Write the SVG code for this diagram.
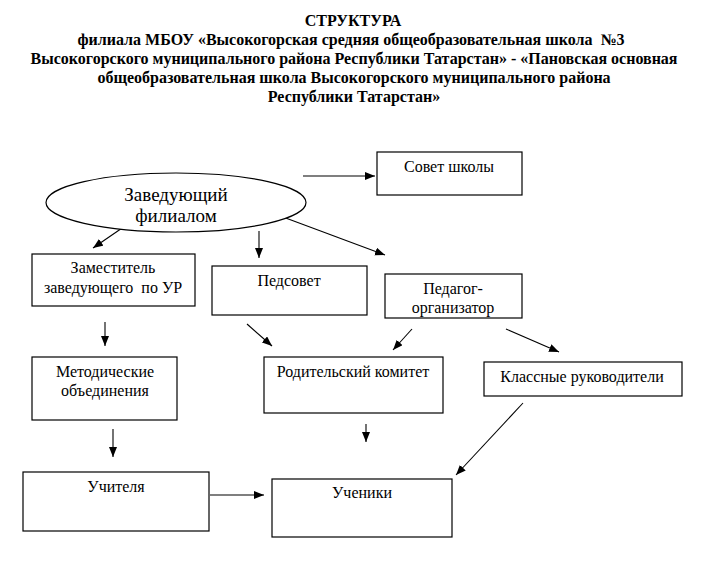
<svg xmlns="http://www.w3.org/2000/svg" width="705" height="571" viewBox="0 0 705 571">
<style>
.t{font-family:"Liberation Serif",serif;font-size:16px;font-weight:bold;text-anchor:middle;fill:#000}
.n{font-family:"Liberation Serif",serif;font-size:16px;text-anchor:middle;fill:#000}
.b{fill:#fff;stroke:#000;stroke-width:1.2}
.c line{stroke:#000;stroke-width:1.1}
</style>
<defs>
<marker id="ah" markerUnits="userSpaceOnUse" markerWidth="11" markerHeight="9" refX="10" refY="4" orient="auto"><path d="M0,0 L10,4 L0,8 z" fill="#000"/></marker>
<clipPath id="ce"><ellipse cx="176" cy="202.5" rx="130" ry="29.5"/></clipPath>
<clipPath id="cp"><rect x="385" y="274" width="137" height="44"/></clipPath>
</defs>
<rect width="705" height="571" fill="#fff"/>
<g id="title">
<text class="t" x="353" y="26">СТРУКТУРА</text>
<text class="t" x="351" y="45" xml:space="preserve">филиала МБОУ «Высокогорская средняя общеобразовательная школа  №3</text>
<text class="t" x="354" y="64">Высокогорского муниципального района Республики Татарстан» - «Пановская основная</text>
<text class="t" x="354" y="83">общеобразовательная школа Высокогорского муниципального района</text>
<text class="t" x="354" y="102">Республики Татарстан»</text>
</g>
<g class="c" id="connectors">
<line x1="303" y1="176" x2="375" y2="176" marker-end="url(#ah)"/>
<line x1="128" y1="224" x2="93" y2="248" marker-end="url(#ah)"/>
<line x1="259" y1="231" x2="259" y2="258" marker-end="url(#ah)"/>
<line x1="283" y1="217" x2="385" y2="255" marker-end="url(#ah)"/>
<line x1="105" y1="322" x2="105" y2="346" marker-end="url(#ah)"/>
<line x1="247" y1="324" x2="272" y2="346" marker-end="url(#ah)"/>
<line x1="412" y1="329" x2="393" y2="350" marker-end="url(#ah)"/>
<line x1="506" y1="329" x2="559" y2="352" marker-end="url(#ah)"/>
<line x1="113" y1="429" x2="113" y2="457" marker-end="url(#ah)"/>
<line x1="366" y1="424" x2="366" y2="442" marker-end="url(#ah)"/>
<line x1="523" y1="403" x2="456" y2="475" marker-end="url(#ah)"/>
<line x1="210" y1="495" x2="264" y2="495" marker-end="url(#ah)"/>
</g>
<g id="zaveduyushchiy">
<ellipse class="b" cx="176" cy="202.5" rx="130" ry="29.5"/>
<g clip-path="url(#ce)">
<text class="n" style="font-size:19px" x="176" y="201">Заведующий</text>
<text class="n" style="font-size:19px" x="176" y="222">филиалом</text>
</g>
</g>
<g id="sovet">
<rect class="b" x="377" y="152" width="145" height="43"/>
<text class="n" x="449" y="172">Совет школы</text>
</g>
<g id="zamestitel">
<rect class="b" x="32" y="254" width="163" height="52"/>
<text class="n" x="113" y="273">Заместитель</text>
<text class="n" x="113" y="293" xml:space="preserve">заведующего  по УР</text>
</g>
<g id="pedsovet">
<rect class="b" x="212" y="266" width="155" height="49"/>
<text class="n" x="289" y="286">Педсовет</text>
</g>
<g id="pedagog">
<rect class="b" x="385" y="274" width="137" height="44"/>
<g clip-path="url(#cp)">
<text class="n" x="453" y="294">Педагог-</text>
<text class="n" x="453" y="313">организатор</text>
</g>
</g>
<g id="metodicheskie">
<rect class="b" x="32" y="357" width="145" height="63"/>
<text class="n" x="105" y="377">Методические</text>
<text class="n" x="105" y="396">объединения</text>
</g>
<g id="roditelskiy">
<rect class="b" x="264" y="357" width="179" height="56"/>
<text class="n" x="353" y="377">Родительский комитет</text>
</g>
<g id="klassnye">
<rect class="b" x="484" y="362" width="198" height="34"/>
<text class="n" x="582" y="382">Классные руководители</text>
</g>
<g id="uchitelya">
<rect class="b" x="23" y="472" width="186" height="59"/>
<text class="n" x="116" y="492">Учителя</text>
</g>
<g id="ucheniki">
<rect class="b" x="272" y="479" width="180" height="58"/>
<text class="n" x="362" y="498">Ученики</text>
</g>
</svg>
